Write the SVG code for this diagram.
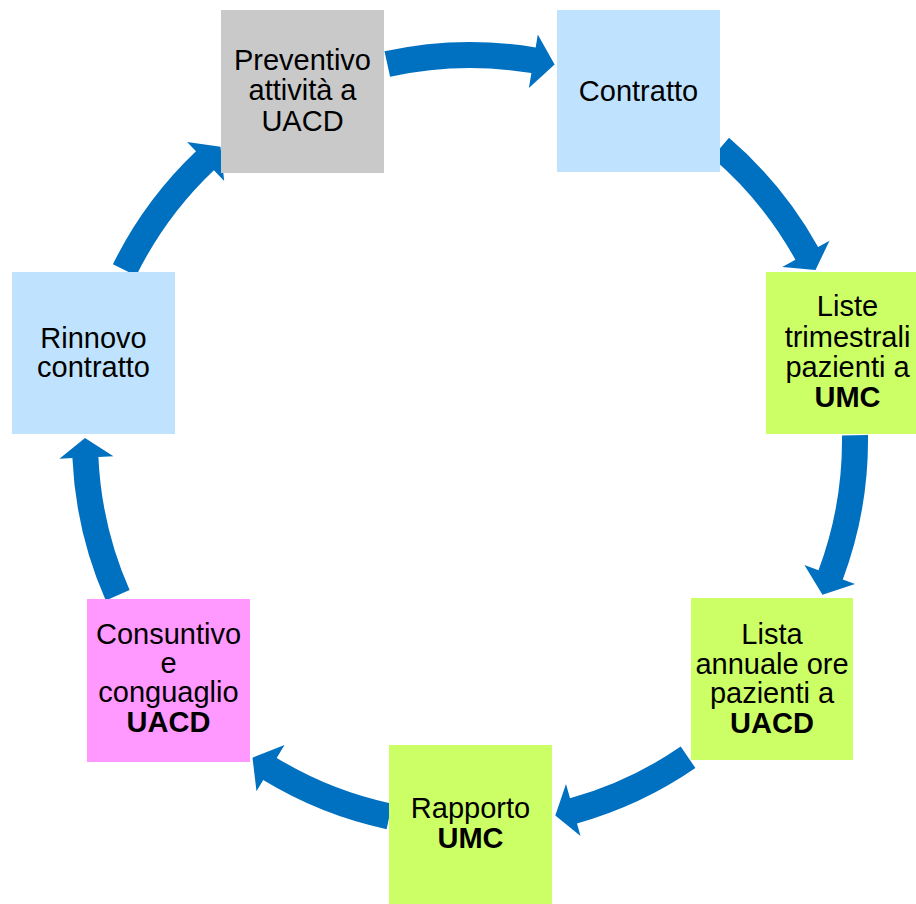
<svg xmlns="http://www.w3.org/2000/svg" width="916" height="904" viewBox="0 0 916 904">
<style>
.arr{fill:#0070C0;stroke:#fff;stroke-width:5;stroke-linejoin:miter;paint-order:stroke fill}
text{font-family:"Liberation Sans",Arial,sans-serif;font-size:29px;fill:#000;text-anchor:middle}
.b{font-weight:bold}
.gray{fill:#C9C9C9}.lblue{fill:#BFE3FF}.green{fill:#CCFF66}.pink{fill:#FF99FF}
</style>
<rect width="916" height="904" fill="#fff"/>
<g id="connectors">
<path class="arr" d="M384.5,51.3 A398,398 0 0 1 535.7,47.5 L537.8,34.6 L554.6,64.4 L528.9,87.9 L531.4,73.1 A372,372 0 0 0 390.1,76.7 Z"/>
<path class="arr" d="M729.0,137.8 A398,398 0 0 1 818.1,247.0 L829.5,240.7 L815.5,270.0 L782.2,266.9 L795.4,259.7 A372,372 0 0 0 712.1,157.5 Z"/>
<path class="arr" d="M868.0,435.1 A398,398 0 0 1 842.8,579.4 L855.0,583.9 L822.5,594.7 L804.4,565.0 L818.5,570.3 A372,372 0 0 0 842.0,435.5 Z"/>
<path class="arr" d="M695.4,768.0 A398,398 0 0 1 577.0,823.4 L580.5,835.9 L555.3,815.4 L566.0,783.9 L570.0,798.3 A372,372 0 0 0 680.7,746.6 Z"/>
<path class="arr" d="M386.6,829.2 A398,398 0 0 1 263.2,780.1 L256.5,791.2 L252.5,757.7 L284.5,745.1 L276.7,757.9 A372,372 0 0 0 392.0,803.7 Z"/>
<path class="arr" d="M105.8,600.6 A398,398 0 0 1 72.4,458.1 L59.4,458.7 L85.0,438.0 L113.4,456.2 L98.4,456.9 A372,372 0 0 0 129.6,590.1 Z"/>
<path class="arr" d="M112.9,264.3 A398,398 0 0 1 196.0,151.3 L187.1,141.9 L220.5,146.8 L224.2,181.0 L213.9,170.2 A372,372 0 0 0 136.2,275.8 Z"/>
</g>
<g id="preventivo">
<rect class="gray" x="221" y="10" width="163" height="163"/>
<text x="302.5" y="69.5">Preventivo</text>
<text x="302.5" y="100">attività a</text>
<text x="302.5" y="130.5">UACD</text>
</g>
<g id="contratto">
<rect class="lblue" x="557" y="10" width="163" height="162"/>
<text x="638.5" y="101">Contratto</text>
</g>
<g id="liste-trimestrali">
<rect class="green" x="766" y="272" width="163" height="162"/>
<text x="847.5" y="316">Liste</text>
<text x="847.5" y="346.5">trimestrali</text>
<text x="847.5" y="376.5">pazienti a</text>
<text x="847.5" y="406.5" class="b">UMC</text>
</g>
<g id="lista-annuale">
<rect class="green" x="691" y="598" width="162" height="162"/>
<text x="772" y="644">Lista</text>
<text x="772" y="673.5">annuale ore</text>
<text x="772" y="703">pazienti a</text>
<text x="772" y="733" class="b">UACD</text>
</g>
<g id="rapporto">
<rect class="green" x="389" y="745" width="163" height="163"/>
<text x="470.5" y="817.7">Rapporto</text>
<text x="470.5" y="847.7" class="b">UMC</text>
</g>
<g id="consuntivo">
<rect class="pink" x="87" y="599" width="163" height="163"/>
<text x="168.5" y="644">Consuntivo</text>
<text x="168.5" y="673">e</text>
<text x="168.5" y="702">conguaglio</text>
<text x="168.5" y="732" class="b">UACD</text>
</g>
<g id="rinnovo">
<rect class="lblue" x="12" y="272" width="163" height="162"/>
<text x="93.5" y="348">Rinnovo</text>
<text x="93.5" y="377">contratto</text>
</g>
</svg>
